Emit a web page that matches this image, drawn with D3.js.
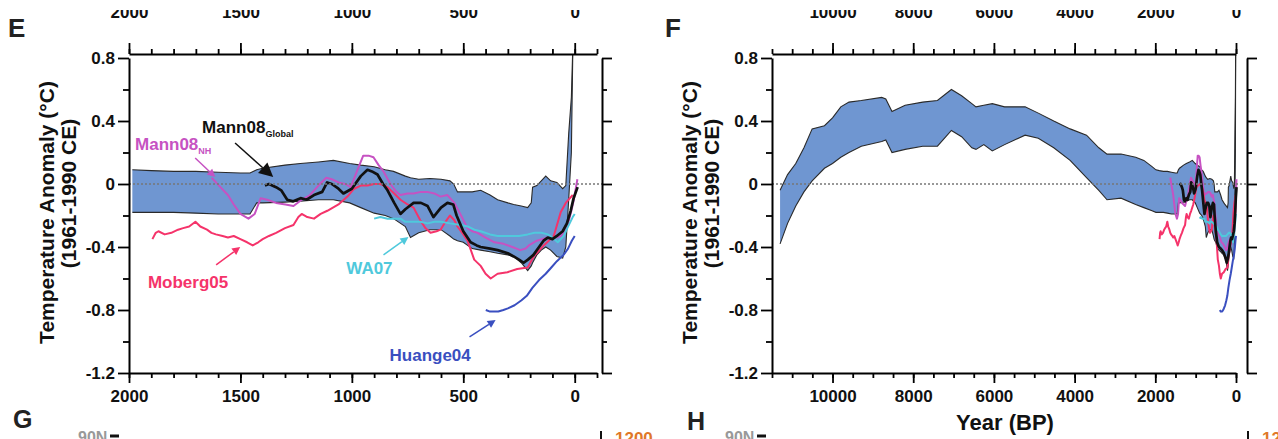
<!DOCTYPE html>
<html>
<head>
<meta charset="utf-8">
<script src="https://cdn.jsdelivr.net/npm/d3@7"></script>
<style>
  body { margin: 0; background: #fff; }
  text { font-family: "Liberation Sans", Arial, sans-serif; font-weight: bold; }
</style>
</head>
<body>
<svg id="chart" width="1278" height="439"></svg>
<script>
// ---- data (years BP, anomaly in degC) ----
var yTicks = [-1.2, -0.8, -0.4, 0, 0.4, 0.8];
var yMinor = [-1.0, -0.6, -0.2, 0.2, 0.6];
var ceMajor = [2000, 1500, 1000, 500, 0];
var bpMajor = [10000, 8000, 6000, 4000, 2000, 0];

// Marcott band, last 2000 yr
var recentYears = [1985, 1900, 1800, 1700, 1600, 1500, 1457, 1427, 1400, 1300, 1231, 1150, 1083, 1010, 960, 900, 850, 813, 760, 737, 700, 650, 600, 560, 543, 526, 500, 460, 422, 380, 346, 300, 274, 240, 211, 195, 189, 170, 150, 130, 108, 80, 54, 40, 27, 15, 8];
var recentUpper = [0.09, 0.085, 0.08, 0.08, 0.075, 0.07, 0.07, 0.09, 0.1, 0.12, 0.13, 0.14, 0.15, 0.13, 0.12, 0.11, 0.09, 0.08, 0.05, 0.04, 0.03, 0.035, 0.03, 0.02, 0.0, -0.05, -0.05, -0.05, -0.04, -0.07, -0.1, -0.12, -0.13, -0.14, -0.15, -0.12, -0.02, -0.01, 0.02, 0.05, 0.02, 0.01, -0.03, -0.01, 0.32, 0.55, 0.9];
var recentLower = [-0.18, -0.18, -0.18, -0.185, -0.19, -0.19, -0.19, -0.12, -0.12, -0.115, -0.11, -0.1, -0.1, -0.12, -0.15, -0.185, -0.2, -0.22, -0.27, -0.34, -0.31, -0.29, -0.29, -0.33, -0.35, -0.36, -0.37, -0.41, -0.42, -0.43, -0.44, -0.45, -0.46, -0.5, -0.55, -0.52, -0.5, -0.45, -0.42, -0.4, -0.42, -0.46, -0.47, -0.4, -0.1, 0.2, 0.9];

// Marcott band, Holocene part (older than 2000 BP)
var holoYears = [11300, 11114, 10911, 10708, 10505, 10200, 10000, 9795, 9592, 9287, 8780, 8680, 8526, 8200, 7765, 7400, 7054, 6800, 6547, 6445, 6250, 6040, 5735, 5227, 4900, 4517, 4111, 3705, 3400, 3197, 2850, 2487, 2284, 2081];
var holoUpper = [-0.04, 0.06, 0.13, 0.23, 0.35, 0.37, 0.42, 0.49, 0.52, 0.53, 0.55, 0.54, 0.46, 0.5, 0.52, 0.53, 0.6, 0.56, 0.51, 0.49, 0.5, 0.51, 0.49, 0.49, 0.45, 0.4, 0.35, 0.31, 0.23, 0.19, 0.19, 0.17, 0.15, 0.11];
var holoLower = [-0.38, -0.25, -0.14, -0.05, 0.02, 0.1, 0.13, 0.17, 0.2, 0.24, 0.27, 0.28, 0.2, 0.22, 0.24, 0.24, 0.34, 0.3, 0.23, 0.22, 0.25, 0.21, 0.25, 0.31, 0.29, 0.23, 0.15, 0.04, -0.04, -0.1, -0.09, -0.13, -0.15, -0.17];

var mann08Global = [[1390,-0.01],[1372,0.0],[1340,-0.02],[1317,-0.04],[1290,-0.1],[1263,-0.11],[1230,-0.09],[1203,-0.1],[1170,-0.07],[1133,-0.05],[1111,0.01],[1090,0.0],[1060,-0.03],[1038,-0.06],[1000,-0.03],[960,0.05],[930,0.09],[910,0.08],[885,0.06],[860,0.0],[840,-0.04],[810,-0.12],[782,-0.19],[760,-0.16],[723,-0.12],[690,-0.12],[660,-0.14],[634,-0.21],[600,-0.15],[571,-0.12],[545,-0.13],[530,-0.2],[500,-0.3],[467,-0.37],[440,-0.39],[422,-0.4],[380,-0.41],[346,-0.42],[300,-0.44],[274,-0.46],[250,-0.48],[229,-0.5],[210,-0.48],[185,-0.45],[160,-0.4],[140,-0.36],[121,-0.34],[100,-0.35],[80,-0.33],[54,-0.3],[35,-0.25],[18,-0.17],[5,-0.09],[-13,-0.02]];
var mann08NH = [[1629,0.04],[1590,-0.02],[1556,-0.07],[1530,-0.13],[1500,-0.19],[1464,-0.22],[1436,-0.19],[1409,-0.09],[1380,-0.1],[1340,-0.12],[1298,-0.13],[1262,-0.14],[1225,-0.1],[1188,-0.07],[1150,-0.01],[1115,0.04],[1090,0.03],[1060,0.01],[1030,0.0],[1005,-0.02],[980,0.07],[949,0.18],[925,0.18],[903,0.17],[880,0.12],[858,0.08],[827,0.0],[800,-0.05],[782,-0.07],[750,-0.06],[723,-0.06],[690,-0.05],[662,-0.05],[630,-0.06],[602,-0.08],[572,-0.07],[540,-0.12],[510,-0.2],[481,-0.28],[460,-0.3],[436,-0.31],[400,-0.34],[360,-0.37],[319,-0.38],[280,-0.4],[244,-0.42],[220,-0.41],[206,-0.39],[170,-0.36],[121,-0.34],[90,-0.34],[60,-0.33],[33,-0.27],[15,-0.17],[4,-0.1],[-12,0.03]];
var moberg05 = [[1895,-0.35],[1880,-0.31],[1868,-0.3],[1840,-0.32],[1810,-0.31],[1780,-0.29],[1757,-0.28],[1730,-0.27],[1702,-0.24],[1680,-0.27],[1650,-0.29],[1630,-0.31],[1610,-0.32],[1580,-0.33],[1556,-0.34],[1530,-0.33],[1500,-0.35],[1470,-0.37],[1445,-0.39],[1420,-0.37],[1400,-0.35],[1372,-0.33],[1340,-0.31],[1300,-0.28],[1262,-0.26],[1240,-0.21],[1225,-0.19],[1200,-0.21],[1170,-0.22],[1140,-0.19],[1110,-0.17],[1060,-0.13],[1020,-0.08],[990,-0.03],[960,-0.01],[930,-0.01],[900,0.0],[872,0.0],[840,-0.02],[810,-0.06],[782,-0.1],[750,-0.13],[723,-0.15],[693,-0.23],[670,-0.28],[647,-0.31],[620,-0.3],[602,-0.29],[580,-0.24],[560,-0.2],[540,-0.23],[526,-0.27],[500,-0.32],[481,-0.36],[451,-0.48],[422,-0.52],[400,-0.57],[377,-0.6],[346,-0.57],[302,-0.56],[258,-0.54],[211,-0.53],[184,-0.46],[139,-0.39],[94,-0.33],[63,-0.18],[40,-0.12],[9,-0.07]];
var wa07 = [[900,-0.22],[872,-0.21],[840,-0.22],[800,-0.22],[782,-0.22],[760,-0.24],[723,-0.24],[693,-0.24],[660,-0.25],[630,-0.24],[600,-0.24],[560,-0.25],[512,-0.26],[480,-0.27],[450,-0.29],[422,-0.3],[380,-0.32],[346,-0.33],[300,-0.33],[250,-0.33],[211,-0.32],[180,-0.31],[150,-0.31],[121,-0.32],[100,-0.34],[76,-0.37],[50,-0.33],[33,-0.28],[9,-0.21],[0,-0.19]];
var huange04 = [[399,-0.8],[380,-0.81],[360,-0.81],[343,-0.81],[320,-0.8],[300,-0.79],[270,-0.77],[240,-0.74],[215,-0.71],[190,-0.66],[160,-0.61],[130,-0.57],[105,-0.53],[80,-0.49],[50,-0.45],[30,-0.41],[13,-0.36],[0,-0.33]];

var bandColor = '#6f96d1';
var series = [
  {name: 'Mann08NH', data: mann08NH, color: '#c652c2', width: 2},
  {name: 'Moberg05', data: moberg05, color: '#f5336a', width: 2},
  {name: 'WA07', data: wa07, color: '#4fc9dc', width: 2},
  {name: 'Huange04', data: huange04, color: '#3a4fc0', width: 2},
  {name: 'Mann08Global', data: mann08Global, color: '#111', width: 2.7}
];

// annotation anchors in data units [year, value]
var notes = [
  {text: 'Mann08', sub: 'Global', color: '#111', at: [1672, 0.324], from: [1524, 0.26], to: [1353, 0.044], head: 14},
  {text: 'Mann08', sub: 'NH', color: '#c652c2', at: [1973, 0.216], from: [1703, 0.165], to: [1613, 0.044], head: 8},
  {text: 'Moberg05', color: '#f5336a', at: [1915, -0.66], from: [1609, -0.514], to: [1501, -0.4], head: 8},
  {text: 'WA07', color: '#4fc9dc', at: [1025, -0.571], from: [858, -0.45], to: [746, -0.337], head: 8},
  {text: 'Huange04', color: '#3a4fc0', at: [831, -1.124], from: [472, -0.971], to: [355, -0.863], head: 8}
];

var svg = d3.select('#chart');
var y = d3.scaleLinear().domain([-1.2, 0.8]).range([373, 58]);

function zip(years, hi, lo) {
  return years.map((d, i) => ({year: d, hi: hi[i], lo: lo[i]}));
}

function styleAxis(g) {
  g.attr('font-family', '"Liberation Sans", Arial, sans-serif')
   .attr('font-size', 17).attr('font-weight', 'bold');
  g.select('.domain').attr('stroke', '#000').attr('stroke-width', 2);
  g.selectAll('.tick line').attr('stroke', '#000').attr('stroke-width', 1.8);
  g.selectAll('.tick text').attr('fill', '#111');
}

function panel(cfg) {
  var x = d3.scaleLinear().domain(cfg.domain).range([cfg.x0, cfg.x1]);
  var g = svg.append('g');

  svg.append('clipPath').attr('id', 'clip' + cfg.letter)
    .append('rect').attr('x', cfg.x0).attr('y', 55)
    .attr('width', cfg.xr - cfg.x0).attr('height', y(-1.2) - 55);
  var plot = g.append('g').attr('clip-path', 'url(#clip' + cfg.letter + ')');

  var area = d3.area().x(d => x(d.year)).y0(d => y(d.lo)).y1(d => y(d.hi));
  plot.append('path').datum(cfg.band).attr('d', area).attr('fill', bandColor);
  plot.append('path').datum(cfg.band).attr('fill', 'none').attr('stroke', '#2a2a2a').attr('stroke-width', 1.1)
    .attr('d', d3.line().x(d => x(d.year)).y(d => y(d.hi)));
  plot.append('path').datum(cfg.band).attr('fill', 'none').attr('stroke', '#2a2a2a').attr('stroke-width', 1.1)
    .attr('d', d3.line().x(d => x(d.year)).y(d => y(d.lo)));

  // zero reference
  g.append('line').attr('x1', cfg.x0).attr('x2', cfg.xr).attr('y1', y(0)).attr('y2', y(0))
    .attr('stroke', '#777').attr('stroke-width', 1.3).attr('stroke-dasharray', '2,2');

  var line = d3.line().x(d => x(d[0])).y(d => y(d[1]));
  plot.selectAll('.rec').data(series).enter().append('path')
    .attr('fill', 'none').attr('stroke', d => d.color).attr('stroke-width', d => d.width)
    .attr('stroke-linejoin', 'round').attr('d', d => line(d.data));

  // axes
  g.append('g').attr('transform', 'translate(' + cfg.x0 + ',0)')
    .call(d3.axisLeft(y).tickValues(yTicks).tickSize(11).tickPadding(3).tickSizeOuter(0).tickFormat(d => String(d)))
    .call(styleAxis);
  g.append('g').attr('transform', 'translate(' + cfg.x0 + ',0)')
    .call(d3.axisLeft(y).tickValues(yMinor).tickSize(6).tickFormat(''))
    .call(styleAxis).call(a => a.select('.domain').remove());
  g.append('g').attr('transform', 'translate(' + cfg.xr + ',0)')
    .call(d3.axisRight(y).tickValues(yTicks).tickSize(10).tickSizeOuter(0).tickFormat(''))
    .call(styleAxis);
  g.append('g').attr('transform', 'translate(' + cfg.xr + ',0)')
    .call(d3.axisRight(y).tickValues(yMinor).tickSize(5).tickFormat(''))
    .call(styleAxis).call(a => a.select('.domain').remove());

  g.append('g').attr('transform', 'translate(0,54)')
    .call(d3.axisTop(x).tickValues(cfg.major).tickSize(11).tickPadding(25).tickSizeOuter(0).tickFormat(d => String(d)))
    .call(styleAxis);
  g.append('g').attr('transform', 'translate(0,54)')
    .call(d3.axisTop(x).tickValues(cfg.minor).tickSize(5).tickFormat(''))
    .call(styleAxis).call(a => a.select('.domain').remove());
  g.append('g').attr('transform', 'translate(0,373)')
    .call(d3.axisBottom(x).tickValues(cfg.major).tickSize(10).tickPadding(7).tickSizeOuter(0).tickFormat(d => String(d)))
    .call(styleAxis);
  g.append('g').attr('transform', 'translate(0,373)')
    .call(d3.axisBottom(x).tickValues(cfg.minor).tickSize(5).tickFormat(''))
    .call(styleAxis).call(a => a.select('.domain').remove());

  // axis titles
  var midY = (y(0.8) + y(-1.2)) / 2;
  g.append('text').attr('transform', 'translate(' + (cfg.x0 - 75) + ',' + (midY - 3) + ') rotate(-90)')
    .attr('text-anchor', 'middle').attr('font-size', 21).attr('fill', '#111').text('Temperature Anomaly (°C)');
  g.append('text').attr('transform', 'translate(' + (cfg.x0 - 53) + ',' + (midY - 22) + ') rotate(-90)')
    .attr('text-anchor', 'middle').attr('font-size', 21).attr('fill', '#111').text('(1961-1990 CE)');

  g.append('text').attr('x', cfg.letterX).attr('y', 37).attr('font-size', 26).attr('fill', '#222').text(cfg.letter);

  if (cfg.xTitle) {
    g.append('text').attr('x', (cfg.x0 + cfg.x1) / 2 + 1).attr('y', 430).attr('text-anchor', 'middle')
      .attr('font-size', 22).attr('fill', '#111').text(cfg.xTitle);
  }

  if (cfg.notes) {
    cfg.notes.forEach(function(n) {
      var t = g.append('text').attr('x', x(n.at[0])).attr('y', y(n.at[1]))
        .attr('font-size', 17).attr('fill', n.color).text(n.text);
      if (n.sub) t.append('tspan').attr('font-size', 9).attr('dy', 4).text(n.sub);
      var x1 = x(n.from[0]), y1 = y(n.from[1]), x2 = x(n.to[0]), y2 = y(n.to[1]);
      var a = Math.atan2(y2 - y1, x2 - x1), L = n.head, W = n.head / 2;
      var bx = x2 - L * Math.cos(a), by = y2 - L * Math.sin(a);
      g.append('line').attr('x1', x1).attr('y1', y1).attr('x2', bx).attr('y2', by)
        .attr('stroke', n.color).attr('stroke-width', 1.5);
      g.append('path').attr('fill', n.color)
        .attr('d', 'M' + x2 + ',' + y2 + 'L' + (bx + W * Math.sin(a)) + ',' + (by - W * Math.cos(a)) +
          'L' + (bx - W * Math.sin(a)) + ',' + (by + W * Math.cos(a)) + 'Z');
    });
  }
}

panel({
  letter: 'E', letterX: 8, x0: 129, x1: 597, xr: 602, domain: [2000, -100],
  major: ceMajor, minor: d3.range(2000, -101, -100),
  band: zip(recentYears, recentUpper, recentLower), notes: notes
});
panel({
  letter: 'F', letterX: 665, x0: 772, x1: 1236, xr: 1247, domain: [11500, 0],
  major: bpMajor, minor: d3.range(11500, -1, -500),
  band: zip(holoYears.concat(recentYears), holoUpper.concat(recentUpper), holoLower.concat(recentLower)),
  xTitle: 'Year (BP)'
});

// top of figure is cut off in the source
svg.append('rect').attr('x', 0).attr('y', 0).attr('width', 1278).attr('height', 10).attr('fill', '#fff');

// fragments of the panels below
var frag = svg.append('g');
frag.append('text').attr('x', 13).attr('y', 428).attr('font-size', 25).attr('fill', '#222').text('G');
frag.append('text').attr('x', 687).attr('y', 430).attr('font-size', 25).attr('fill', '#222').text('H');
[[78, 110], [725, 757]].forEach(function(p) {
  frag.append('text').attr('x', p[0]).attr('y', 443).attr('font-size', 16).attr('fill', '#999').text('90N');
  frag.append('line').attr('x1', p[1]).attr('x2', p[1] + 9).attr('y1', 436).attr('y2', 436)
    .attr('stroke', '#111').attr('stroke-width', 3);
});
[[601, 615], [1248, 1262]].forEach(function(p) {
  frag.append('line').attr('x1', p[0]).attr('x2', p[0]).attr('y1', 431).attr('y2', 439)
    .attr('stroke', '#111').attr('stroke-width', 2);
  frag.append('text').attr('x', p[1]).attr('y', 444).attr('font-size', 17).attr('fill', '#e07828').text('1200');
});
</script>
</body>
</html>
